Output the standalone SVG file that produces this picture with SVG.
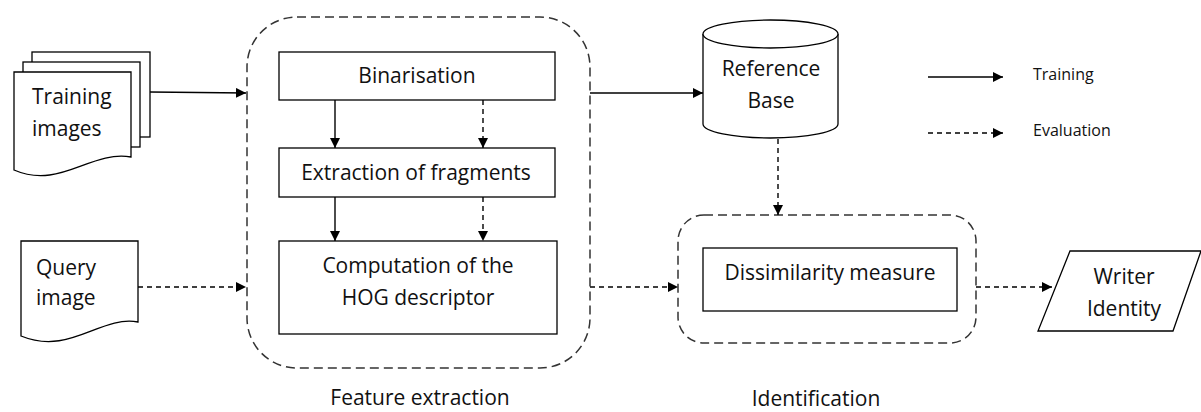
<svg xmlns="http://www.w3.org/2000/svg" width="1201" height="412" viewBox="0 0 1201 412">
<defs>
<marker id="ah" viewBox="0 0 10 10" refX="10" refY="5" markerWidth="10" markerHeight="10" markerUnits="userSpaceOnUse" orient="auto">
<path d="M0,0 L10,5 L0,10 Z" fill="#000"/>
</marker>
<style>
.box{fill:#fff;stroke:#000;stroke-width:1.3}
.grp{fill:none;stroke:#333;stroke-width:1.5;stroke-dasharray:9 5}
.t{font-family:"Open Sans","Liberation Sans",sans-serif;font-size:21px;fill:#111}
.s{font-family:"Open Sans","Liberation Sans",sans-serif;font-size:16px;fill:#111}
.c{text-anchor:middle}
.sol{fill:none;stroke:#000;stroke-width:1.4;marker-end:url(#ah)}
.dsh{fill:none;stroke:#000;stroke-width:1.4;stroke-dasharray:5 4;marker-end:url(#ah)}
</style>
</defs>
<rect width="1201" height="412" fill="#fff"/>

<g id="feature-extraction">
<rect class="grp" x="247" y="17" width="343" height="351" rx="50"/>
<text class="t c" x="420" y="405">Feature extraction</text>
</g>
<g id="identification">
<rect class="grp" x="678" y="215" width="298" height="128" rx="26"/>
<text class="t c" x="816" y="406">Identification</text>
</g>

<g id="training-images">
<rect class="box" x="32" y="52" width="118" height="85"/>
<rect class="box" x="23" y="62" width="117" height="85"/>
<path class="box" d="M14,72 H131 V157 C90,150 60,190 14,170 Z"/>
<text class="t" x="32" y="104">Training</text>
<text class="t" x="32" y="136">images</text>
</g>

<g id="query-image">
<path class="box" d="M21,241 H138 V322 C100,315 70,356 21,336 Z"/>
<text class="t" x="36" y="275">Query</text>
<text class="t" x="36" y="305">image</text>
</g>

<g id="binarisation">
<rect class="box" x="279" y="52" width="276" height="48"/>
<text class="t c" x="417" y="83">Binarisation</text>
</g>
<g id="extraction">
<rect class="box" x="279" y="148" width="276" height="49"/>
<text class="t c" x="416" y="180">Extraction of fragments</text>
</g>
<g id="computation">
<rect class="box" x="279" y="241" width="278" height="93"/>
<text class="t c" x="418" y="273">Computation of the</text>
<text class="t c" x="418" y="305">HOG descriptor</text>
</g>

<g id="reference-base">
<path class="box" d="M703,34 V124 A67.5,14 0 0 0 838,124 V34"/>
<ellipse class="box" cx="770.5" cy="34" rx="67.5" ry="14"/>
<text class="t c" x="771" y="76">Reference</text>
<text class="t c" x="771" y="108">Base</text>
</g>

<g id="dissimilarity">
<rect class="box" x="703" y="248" width="254" height="63"/>
<text class="t c" x="830" y="280">Dissimilarity measure</text>
</g>

<g id="writer-identity">
<path class="box" d="M1070,251 H1201 L1173,331 H1038 Z"/>
<text class="t c" x="1124" y="284">Writer</text>
<text class="t c" x="1124" y="316">Identity</text>
</g>

<g id="legend">
<line class="sol" x1="928" y1="77" x2="1003" y2="77"/>
<text class="s" x="1033" y="80">Training</text>
<line class="dsh" x1="928" y1="133" x2="1003" y2="133"/>
<text class="s" x="1033" y="136">Evaluation</text>
</g>

<g id="connectors">
<line class="sol" x1="150" y1="92" x2="246" y2="93"/>
<line class="dsh" x1="138" y1="287" x2="246" y2="287"/>
<line class="sol" x1="335" y1="100" x2="335" y2="148"/>
<line class="dsh" x1="483" y1="100" x2="483" y2="148"/>
<line class="sol" x1="335" y1="197" x2="335" y2="241"/>
<line class="dsh" x1="483" y1="197" x2="483" y2="241"/>
<line class="sol" x1="590" y1="93" x2="703" y2="93"/>
<line class="dsh" x1="778" y1="139" x2="778" y2="215"/>
<line class="dsh" x1="590" y1="287" x2="678" y2="287"/>
<line class="dsh" x1="976" y1="287" x2="1052" y2="287"/>
</g>
</svg>
